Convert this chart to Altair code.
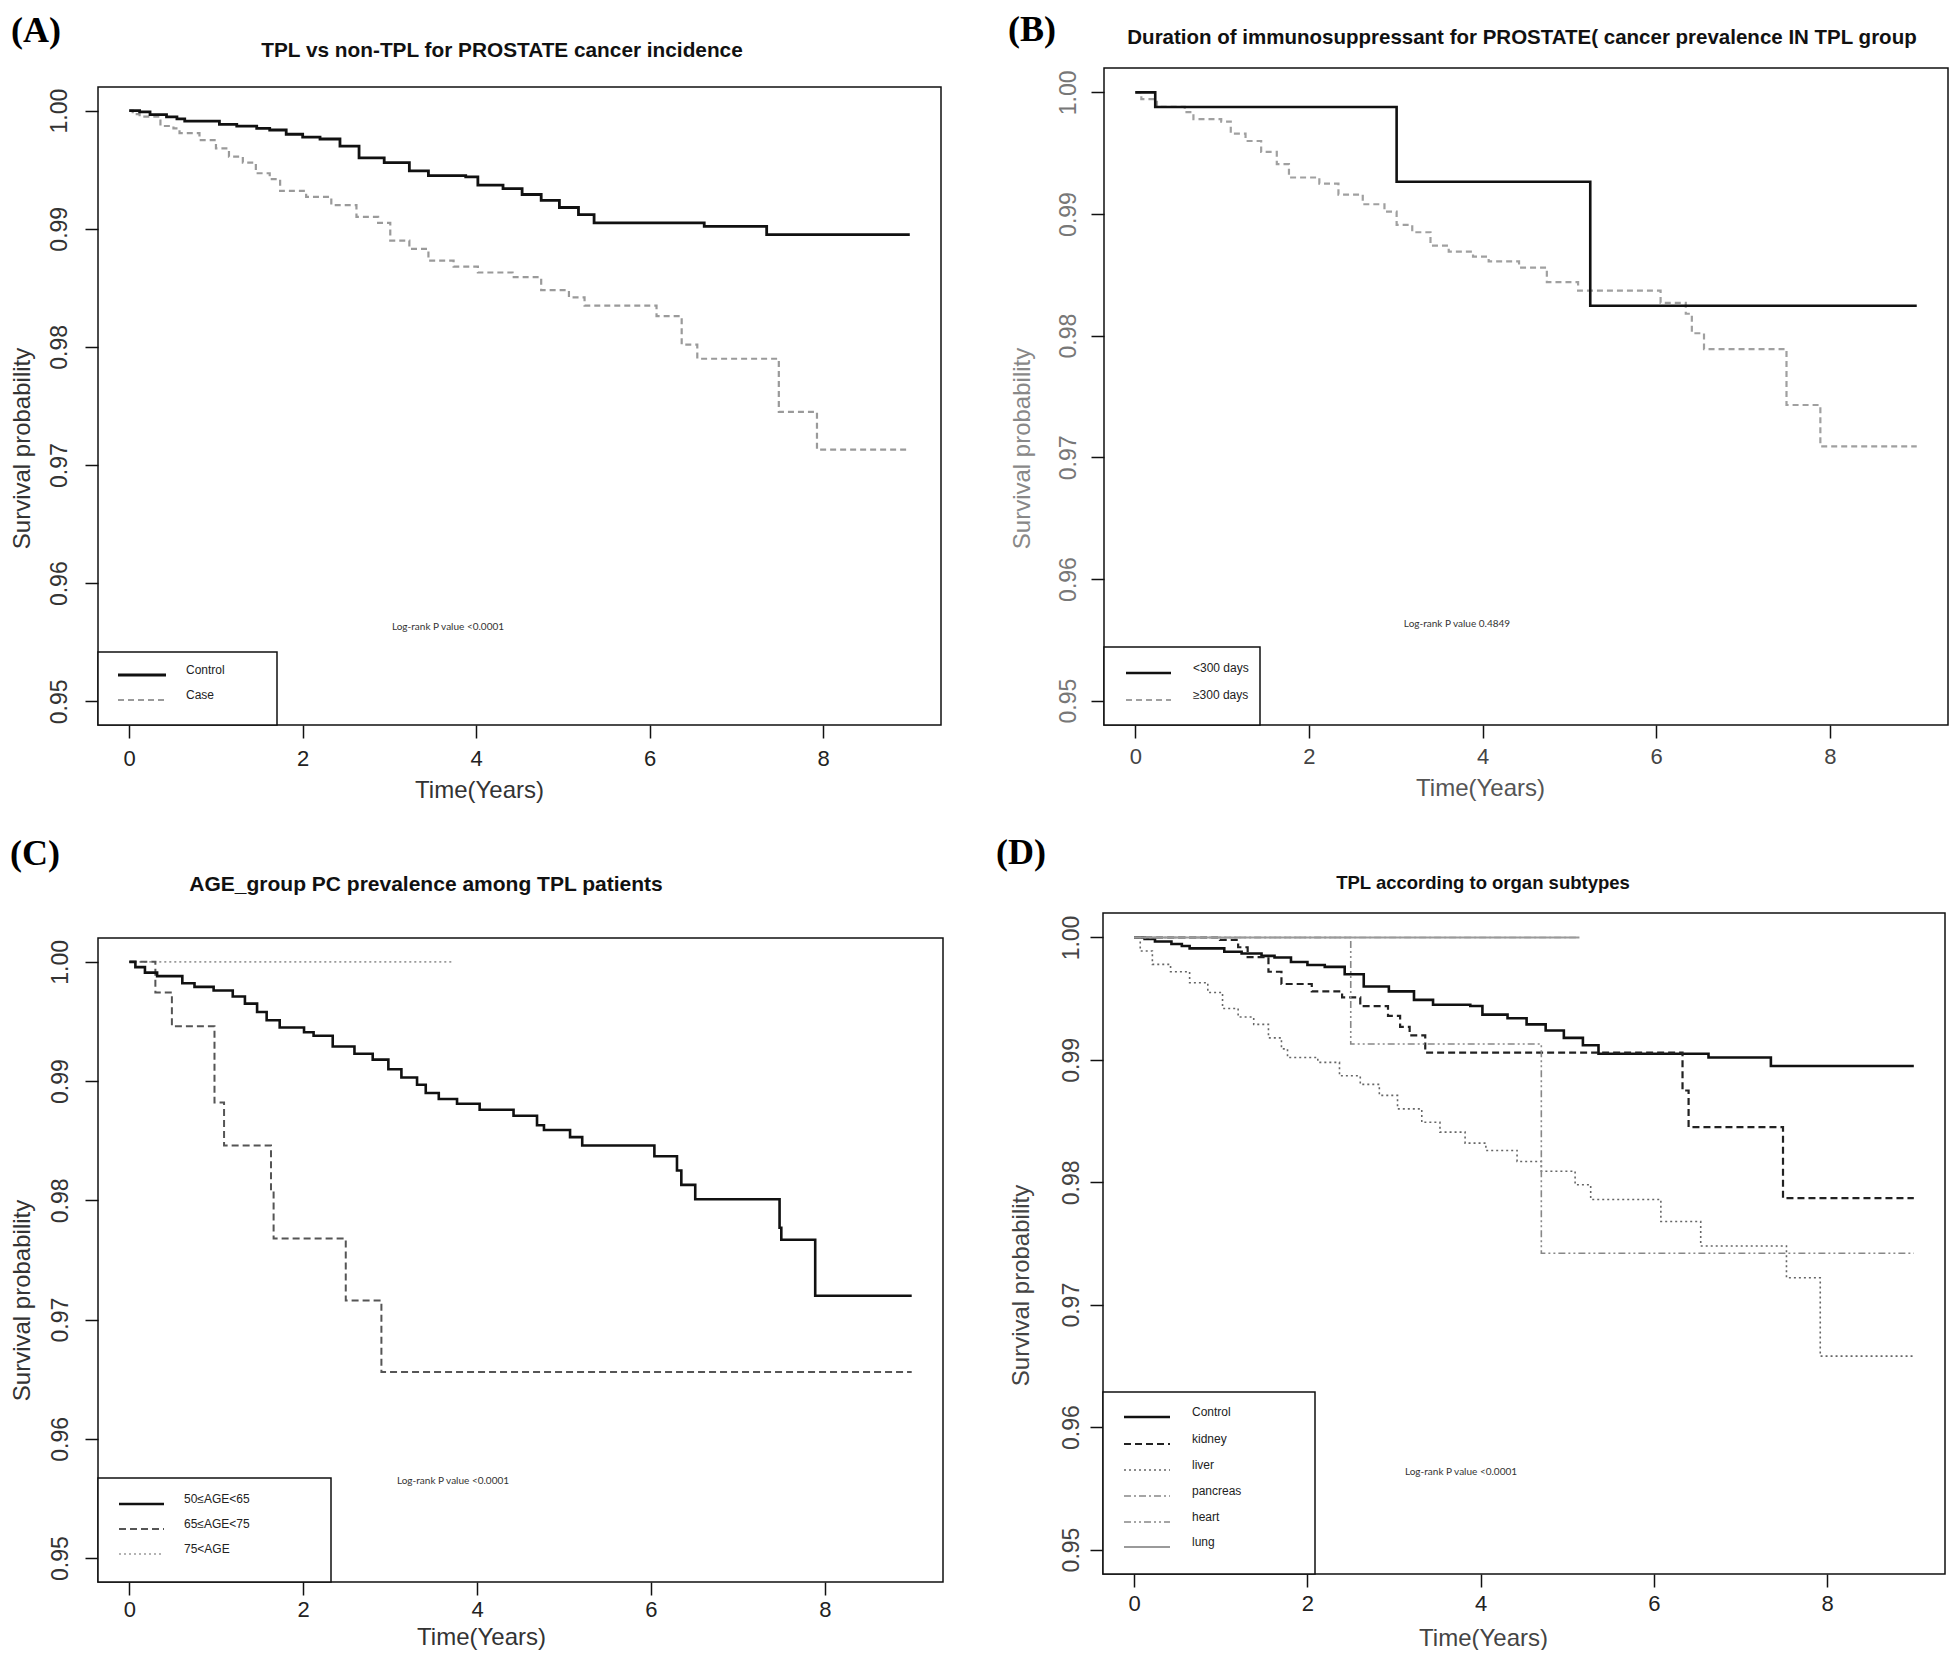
import altair as alt
import pandas as pd

# ---------------- data ----------------
TIME_TICKS = [0, 2, 4, 6, 8]
SURV_TICKS = [0.95, 0.96, 0.97, 0.98, 0.99, 1.00]

# Panel A
A_control_t = [0, 0.12, 0.24, 0.43, 0.55, 0.64, 1.04, 1.24, 1.47, 1.62, 1.81, 2.0, 2.2, 2.43, 2.65, 2.94, 3.23, 3.45, 3.88, 4.02, 4.31, 4.53, 4.75, 4.96, 5.18, 5.36, 6.63, 7.35, 9.0]
A_control_s = [1.0, 0.99989, 0.99967, 0.99947, 0.9993, 0.99911, 0.99883, 0.99869, 0.9985, 0.99836, 0.998, 0.99775, 0.9976, 0.9970, 0.9960, 0.9956, 0.9949, 0.9945, 0.9944, 0.9937, 0.9934, 0.9929, 0.9924, 0.9918, 0.9912, 0.9905, 0.9902, 0.9895, 0.9895]
A_case_t = [0, 0.04, 0.12, 0.36, 0.51, 0.58, 0.81, 1.0, 1.15, 1.31, 1.46, 1.62, 1.74, 2.04, 2.33, 2.62, 2.87, 3.01, 3.23, 3.45, 3.74, 4.02, 4.42, 4.75, 5.07, 5.25, 6.08, 6.37, 6.55, 7.49, 7.93, 9.0]
A_case_s = [1.0, 0.9997, 0.9995, 0.9987, 0.9985, 0.9981, 0.9975, 0.9968, 0.9961, 0.9956, 0.9947, 0.9942, 0.9932, 0.9927, 0.9920, 0.9910, 0.9905, 0.9890, 0.9883, 0.9873, 0.9868, 0.9863, 0.9859, 0.9848, 0.9842, 0.9835, 0.9826, 0.9802, 0.9790, 0.9745, 0.9713, 0.9713]

# Panel B
B_lt300_t = [0, 0.23, 3.01, 5.24, 9.0]
B_lt300_s = [1.0, 0.9988, 0.99265, 0.98246, 0.98246]
B_ge300_t = [0, 0.07, 0.25, 0.57, 0.67, 0.99, 1.10, 1.27, 1.45, 1.63, 1.77, 2.12, 2.34, 2.62, 2.87, 3.01, 3.19, 3.40, 3.61, 3.89, 4.07, 4.42, 4.74, 5.10, 6.05, 6.34, 6.41, 6.55, 7.50, 7.89, 9.0]
B_ge300_s = [1.0, 0.99944, 0.9988, 0.99837, 0.9978, 0.9976, 0.9966, 0.9960, 0.9951, 0.9941, 0.9930, 0.9925, 0.9916, 0.9908, 0.9902, 0.9891, 0.9885, 0.9874, 0.9869, 0.9865, 0.9861, 0.9856, 0.9844, 0.9837, 0.9827, 0.9818, 0.9802, 0.9789, 0.9743, 0.9709, 0.9709]

# Panel C
C_50_65_t = [0, 0.07, 0.18, 0.32, 0.61, 0.75, 0.97, 1.19, 1.33, 1.47, 1.58, 1.73, 2.01, 2.12, 2.34, 2.59, 2.80, 2.98, 3.13, 3.31, 3.41, 3.56, 3.77, 4.03, 4.42, 4.69, 4.77, 5.07, 5.21, 6.04, 6.30, 6.35, 6.51, 7.48, 7.50, 7.89, 9.0]
C_50_65_s = [1.0, 0.99956, 0.9991, 0.9988, 0.9982, 0.9979, 0.9976, 0.9971, 0.9965, 0.9958, 0.9951, 0.9945, 0.9941, 0.9938, 0.9929, 0.9923, 0.9918, 0.9910, 0.9903, 0.9897, 0.9890, 0.9885, 0.9881, 0.9876, 0.9871, 0.9863, 0.9859, 0.9853, 0.9846, 0.9837, 0.9825, 0.9813, 0.9801, 0.9777, 0.9767, 0.9720, 0.9720]
C_65_75_t = [0, 0.30, 0.49, 0.98, 1.09, 1.63, 1.66, 2.49, 2.90, 9.0]
C_65_75_s = [1.0, 0.99744, 0.9946, 0.9882, 0.9846, 0.9808, 0.9768, 0.9716, 0.9656, 0.9656]
C_75_t = [0, 3.72]
C_75_s = [1.0, 1.0]

# Panel D (Control curve is the same as in panel A)
D_kidney_t = [0, 0.99, 1.20, 1.31, 1.55, 1.70, 2.05, 2.40, 2.61, 2.93, 3.07, 3.18, 3.36, 6.33, 6.40, 7.49, 9.0]
D_kidney_s = [1.0, 0.9998, 0.9992, 0.9984, 0.9972, 0.9962, 0.9956, 0.9951, 0.9944, 0.9936, 0.9927, 0.9920, 0.9906, 0.9875, 0.9845, 0.9787, 0.9787]
D_liver_t = [0, 0.07, 0.21, 0.42, 0.64, 0.85, 1.02, 1.20, 1.38, 1.55, 1.70, 1.77, 2.12, 2.37, 2.61, 2.83, 3.04, 3.32, 3.53, 3.82, 4.06, 4.42, 4.70, 5.09, 5.27, 6.08, 6.54, 7.53, 7.92, 9.0]
D_liver_s = [1.0, 0.9989, 0.9978, 0.9972, 0.9963, 0.9955, 0.9942, 0.9935, 0.9929, 0.9918, 0.9909, 0.9902, 0.9898, 0.9887, 0.9880, 0.9871, 0.9860, 0.9849, 0.9841, 0.9832, 0.9826, 0.9817, 0.9809, 0.9798, 0.9786, 0.9768, 0.9748, 0.9722, 0.9658, 0.9658]
D_pancreas_t = [0, 5.1]
D_pancreas_s = [1.0, 1.0]
D_heart_t = [0, 2.50, 4.70, 9.0]
D_heart_s = [1.0, 0.9913, 0.9742, 0.9742]
D_lung_t = [0, 5.14]
D_lung_s = [1.0, 1.0]

# ---------------- styling helpers ----------------
FONT = "Liberation Sans"
XDOM = [-0.36, 9.36]
Y_LO, Y_HI = 0.948, 1.002
ONE = pd.DataFrame({"k": [0]})
INK = "#111111"


def encodings(p):
    ext, h = p["ext"], p["h"]
    # the plot frame is drawn from `ext` downwards; the scale is extended over the
    # blank strip above it so that the frame keeps the reference's vertical offset
    y_top = Y_HI + ext * (Y_HI - Y_LO) / h
    x = alt.X(
        "t:Q",
        scale=alt.Scale(domain=XDOM, nice=False, zero=False),
        axis=alt.Axis(
            values=TIME_TICKS, format="d", title="Time(Years)", domain=False, grid=False,
            tickSize=13, tickWidth=1.5, tickColor=INK,
            labelFont=FONT, labelFontSize=22, labelColor=p["xlab_color"],
            labelBaseline="middle", labelPadding=p["xlab_pad"], labelFlush=False, labelOverlap=False,
            titleFont=FONT, titleFontSize=24, titleFontWeight="normal", titleColor=p["xtitle_color"],
            titleX=p["xt_x"], titleY=p["xt_y"], titleAlign="center", titleBaseline="middle",
        ),
    )
    y = alt.Y(
        "s:Q",
        scale=alt.Scale(domain=[Y_LO, y_top], nice=False, zero=False),
        axis=alt.Axis(
            values=SURV_TICKS, format=".2f", title="Survival probability", domain=False, grid=False,
            tickSize=13, tickWidth=1.5, tickColor=INK,
            labelFont=FONT, labelFontSize=23, labelColor=p["ylab_color"],
            labelAngle=270, labelAlign="center", labelBaseline="middle",
            labelPadding=p["ylab_pad"], labelFlush=False, labelOverlap=False,
            titleFont=FONT, titleFontSize=24, titleFontWeight="normal", titleColor=p["ytitle_color"],
            titleAngle=270, titleX=p["yt_x"], titleY=ext + p["yt_y"], titleAlign="center",
            titleBaseline="middle",
        ),
    )
    return x, y


def step_layer(t, s, x, y, color, width, dash=None):
    df = pd.DataFrame({"t": t, "s": s})
    kw = dict(interpolate="step-after", color=color, strokeWidth=width)
    if dash:
        kw["strokeDash"] = dash
    return alt.Chart(df).mark_line(**kw).encode(x=x, y=y)


def text_layer(text, x, y, size, font=FONT, weight="normal", color=INK, align="center"):
    return alt.Chart(ONE).mark_text(
        text=text, fontSize=size, font=font, fontWeight=weight, color=color,
        align=align, baseline="middle",
    ).encode(x=alt.value(x), y=alt.value(y))


def frame_layer(x0, x1, y0, y1, fill_white=False):
    kw = dict(stroke=INK, strokeWidth=1.5)
    if fill_white:
        kw["fill"] = "white"
    else:
        kw["fillOpacity"] = 0
    return alt.Chart(ONE).mark_rect(**kw).encode(
        x=alt.value(x0), x2=alt.value(x1), y=alt.value(y0), y2=alt.value(y1)
    )


def legend_layers(box, entries, line_x, label_x):
    x0, x1, y0, y1 = box
    out = [frame_layer(x0, x1, y0, y1, fill_white=True)]
    for label, ly, color, width, dash in entries:
        kw = dict(color=color, strokeWidth=width)
        if dash:
            kw["strokeDash"] = dash
        out.append(
            alt.Chart(ONE).mark_rule(**kw).encode(
                x=alt.value(line_x[0]), x2=alt.value(line_x[1]), y=alt.value(ly)
            )
        )
        out.append(text_layer(label, label_x, ly - 5, 12, color="#222222", align="left"))
    return out


def panel(p, series, legend_entries):
    x, y = encodings(p)
    w, h, ext = p["w"], p["h"], p["ext"]
    total = h + ext
    layers = [frame_layer(0, w, ext, total)]
    layers += [step_layer(t, s, x, y, c, lw, d) for (t, s, c, lw, d) in series]
    layers.append(text_layer(p["letter"], p["letter_xy"][0], ext + p["letter_xy"][1], 36,
                             font="Liberation Serif", weight="bold", color="#000000", align="left"))
    layers.append(text_layer(p["title"], p["title_xy"][0], ext + p["title_xy"][1], p["title_size"],
                             weight="bold", color=INK))
    layers.append(text_layer(p["logrank"], p["lr_x"], total - p["lr_from_bottom"], 10,
                             font="Lato", color="#333333"))
    box = (0, p["lg_w"], total - p["lg_h"], total)
    entries = [(lab, total - off, c, lw, d) for (lab, off, c, lw, d) in legend_entries]
    layers += legend_layers(box, entries, p["lg_line_x"], p["lg_label_x"])
    return alt.layer(*layers).properties(width=w, height=total)


GRAY_CASE = "#9a9a9a"

# ---------------- Panel A ----------------
pA = dict(
    w=843, h=638, ext=19, letter="(A)", letter_xy=(-87, -56),
    title="TPL vs non-TPL for  PROSTATE cancer incidence", title_xy=(404, -36), title_size=20.8,
    logrank="Log-rank P value <0.0001", lr_x=350, lr_from_bottom=98,
    lg_w=179, lg_h=73, lg_line_x=(20, 68), lg_label_x=88,
    yt_x=-76, yt_y=361, xt_x=381, xt_y=65,
    ylab_pad=26, xlab_pad=20,
    xlab_color="#222222", ylab_color="#333333", xtitle_color="#333333", ytitle_color="#333333",
)
A = panel(
    pA,
    [
        (A_case_t, A_case_s, GRAY_CASE, 2.2, [6, 4]),
        (A_control_t, A_control_s, INK, 2.8, None),
    ],
    [
        ("Control", 50, INK, 2.8, None),
        ("Case", 25, GRAY_CASE, 2.2, [6, 4]),
    ],
)

# ---------------- Panel B ----------------
pB = dict(
    w=844, h=657, ext=0, letter="(B)", letter_xy=(-96, -38),
    title="Duration of  immunosuppressant for  PROSTATE( cancer prevalence IN TPL group",
    title_xy=(418, -30.5), title_size=20.5,
    logrank="Log-rank P value 0.4849", lr_x=353, lr_from_bottom=101,
    lg_w=156, lg_h=78, lg_line_x=(22, 67), lg_label_x=89,
    yt_x=-82, yt_y=380, xt_x=376, xt_y=63,
    ylab_pad=23, xlab_pad=18,
    xlab_color="#444444", ylab_color="#777777", xtitle_color="#555555", ytitle_color="#888888",
)
B = panel(
    pB,
    [
        (B_ge300_t, B_ge300_s, "#a0a0a0", 2.2, [6, 4]),
        (B_lt300_t, B_lt300_s, INK, 2.6, None),
    ],
    [
        ("<300 days", 52, INK, 2.6, None),
        ("\u2265300 days", 25, "#a0a0a0", 2.2, [6, 4]),
    ],
)

# ---------------- Panel C ----------------
pC = dict(
    w=845, h=644, ext=25, letter="(C)", letter_xy=(-88, -84.5),
    title="AGE_group PC prevalence  among TPL patients", title_xy=(328, -53), title_size=21,
    logrank="Log-rank P value <0.0001", lr_x=355, lr_from_bottom=101,
    lg_w=233, lg_h=104, lg_line_x=(21, 66), lg_label_x=86,
    yt_x=-76, yt_y=362, xt_x=383, xt_y=55,
    ylab_pad=25, xlab_pad=14,
    xlab_color="#222222", ylab_color="#333333", xtitle_color="#333333", ytitle_color="#333333",
)
C = panel(
    pC,
    [
        (C_75_t, C_75_s, "#9a9a9a", 1.6, [2, 3]),
        (C_65_75_t, C_65_75_s, "#555555", 2.0, [7, 4]),
        (C_50_65_t, C_50_65_s, INK, 2.6, None),
    ],
    [
        ("50\u2264AGE<65", 78, INK, 2.6, None),
        ("65\u2264AGE<75", 53, "#555555", 2.0, [7, 4]),
        ("75<AGE", 28, "#9a9a9a", 1.6, [2, 3]),
    ],
)

# ---------------- Panel D ----------------
pD = dict(
    w=842, h=661, ext=0, letter="(D)", letter_xy=(-107, -60),
    title="TPL according to organ subtypes", title_xy=(380, -30), title_size=18.5,
    logrank="Log-rank P value <0.0001", lr_x=358, lr_from_bottom=102,
    lg_w=212, lg_h=182, lg_line_x=(21, 67), lg_label_x=89,
    yt_x=-82, yt_y=372, xt_x=380, xt_y=64,
    ylab_pad=19, xlab_pad=16,
    xlab_color="#222222", ylab_color="#444444", xtitle_color="#444444", ytitle_color="#444444",
)
D = panel(
    pD,
    [
        (A_control_t, A_control_s, INK, 2.6, None),
        (D_kidney_t, D_kidney_s, "#222222", 2.2, [7, 4]),
        (D_liver_t, D_liver_s, "#666666", 1.6, [2, 3]),
        (D_pancreas_t, D_pancreas_s, "#888888", 1.6, [7, 3, 2, 3]),
        (D_heart_t, D_heart_s, "#888888", 1.6, [7, 3, 2, 3, 2, 3]),
        (D_lung_t, D_lung_s, "#9a9a9a", 1.8, None),
    ],
    [
        ("Control", 157, INK, 2.6, None),
        ("kidney", 130, "#222222", 2.2, [7, 4]),
        ("liver", 104, "#666666", 1.6, [2, 3]),
        ("pancreas", 78, "#888888", 1.6, [7, 3, 2, 3]),
        ("heart", 52, "#888888", 1.6, [7, 3, 2, 3, 2, 3]),
        ("lung", 27, "#9a9a9a", 1.8, None),
    ],
)

row1 = alt.hconcat(A, B, spacing=66)
row2 = alt.hconcat(C, D, spacing=52)
chart = (
    alt.vconcat(row1, row2, spacing=33)
    .properties(padding={"left": 2, "top": 4, "right": 0, "bottom": 0}, background="white")
    .configure_view(strokeWidth=0)
)

chart.save("out.html", embed_options={"renderer": "svg", "actions": False})
